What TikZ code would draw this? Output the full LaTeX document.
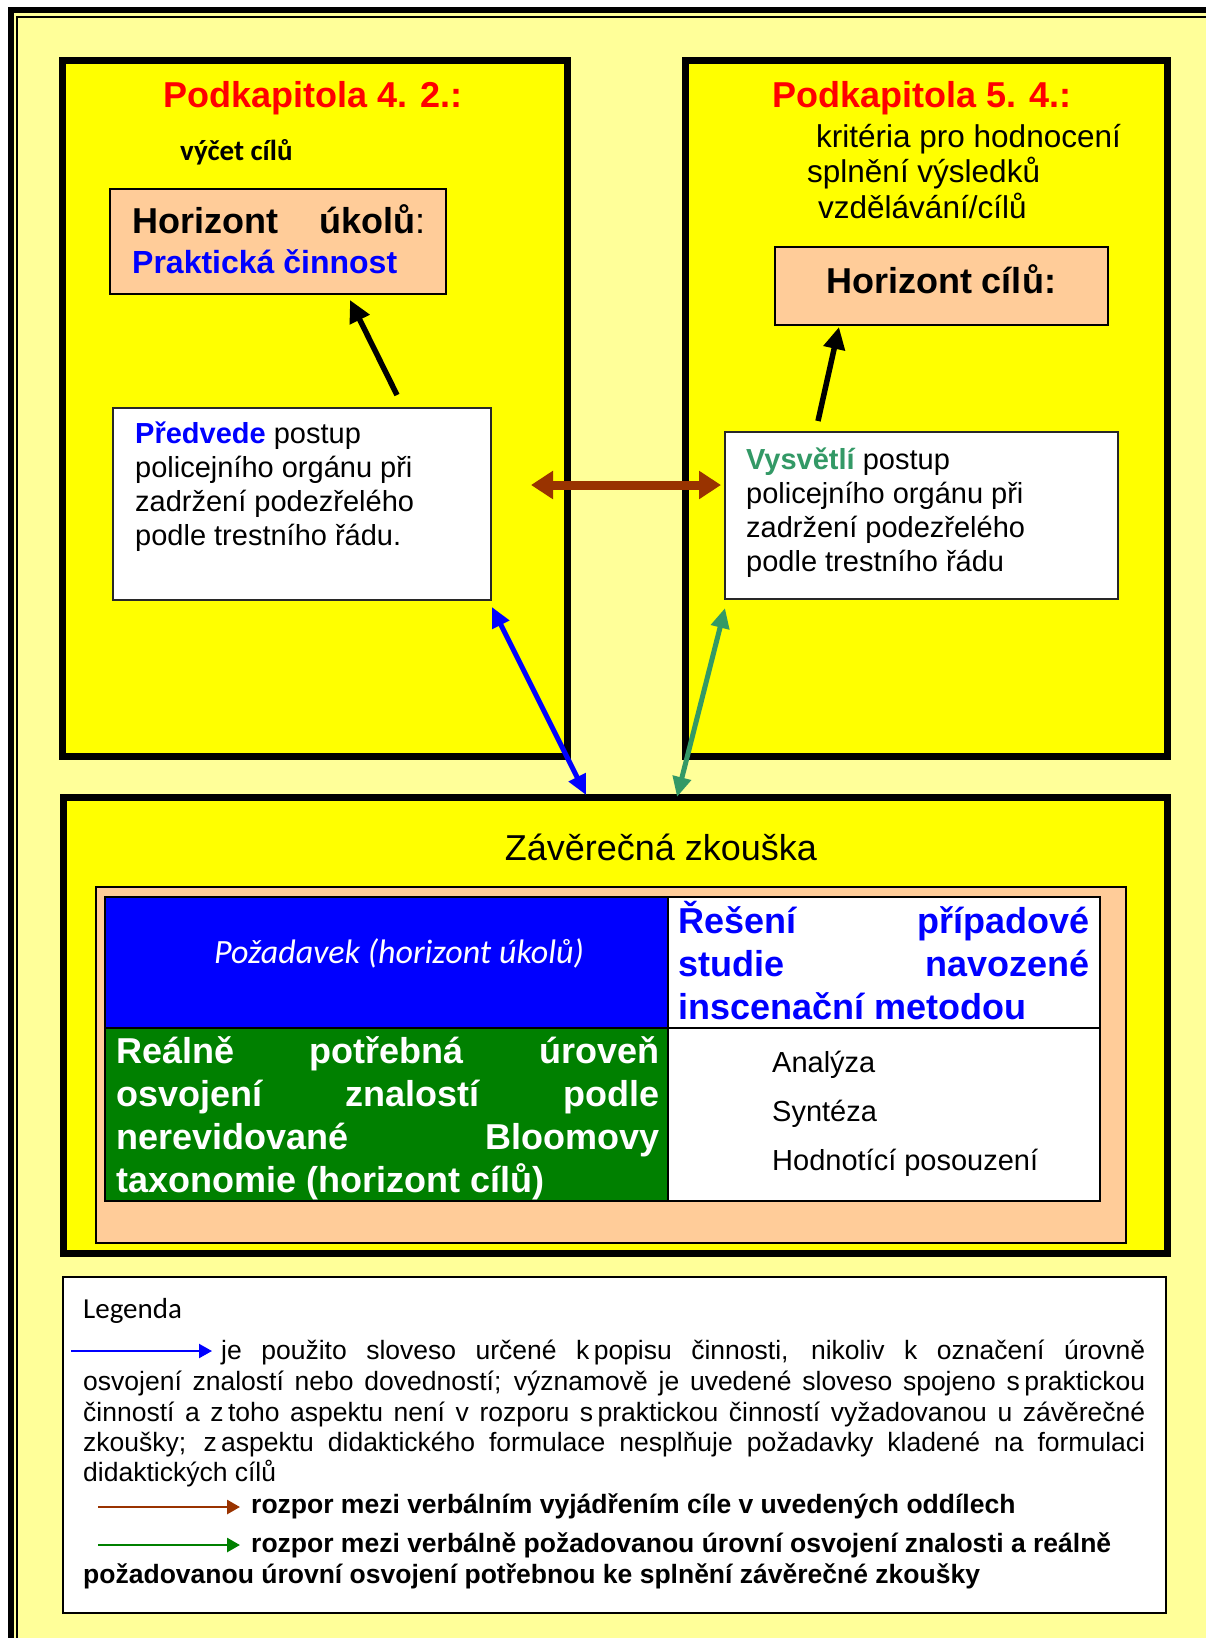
\documentclass[tikz,border=0pt]{standalone}
\usepackage{fontspec}
\setmainfont{Liberation Sans}
\newfontfamily\calibrifont{Carlito}
\usepackage{xcolor}
\usetikzlibrary{arrows.meta}

\begin{document}
\begin{tikzpicture}[x=1pt,y=-1pt,
    chapbox/.style={draw, line width=7pt, fill={rgb, 255:red, 255; green, 255; blue, 0 }, anchor=north west, inner sep=0pt, outer sep=0pt},
    peachbox/.style={draw, line width=2pt, fill={rgb, 255:red, 255; green, 204; blue, 153 }, anchor=north west, inner sep=0pt, outer sep=0pt},
    whitebox/.style={draw={rgb, 255:red, 40; green, 40; blue, 40 }, line width=2pt, fill=white, anchor=north west, inner sep=0pt, outer sep=0pt},
    cell/.style={draw, line width=2.5pt, anchor=north west, inner sep=0pt, outer sep=0pt},
    txt/.style={anchor=base west, inner sep=0pt, align=left},
    blackarrow/.style={line width=5.5pt, -{Triangle[length=22pt,width=21pt]}},
    brownarrow/.style={color={rgb, 255:red, 153; green, 51; blue, 0 }, line width=9pt, {Triangle[length=22pt,width=27pt]}-{Triangle[length=22pt,width=27pt]}},
    bluearrow/.style={color={rgb, 255:red, 0; green, 0; blue, 255 }, line width=5pt, {Triangle[length=20pt,width=18pt]}-{Triangle[length=20pt,width=18pt]}},
    seaarrow/.style={color={rgb, 255:red, 51; green, 153; blue, 102 }, line width=5pt, {Triangle[length=20pt,width=18pt]}-{Triangle[length=20pt,width=18pt]}},
    legarrow/.style={line width=2.8pt, -{Triangle[length=13pt,width=14pt]}}
  ]
  \useasboundingbox (0,0) rectangle (1206,1638);
  %Background frame
  \fill [fill={rgb, 255:red, 255; green, 255; blue, 153 }] (8,7) rectangle (1206,1638);
  \draw [line width=6pt] (11,1638) -- (11,10) -- (1206,10);
  \draw [line width=1.8pt] (17,1638) -- (17,17) -- (1206,17);

  %Shape: Rectangle [Podkapitola 4.2]
  \node [chapbox, minimum width=505pt, minimum height=696pt] (kap42) at (62,60) {};
  %Shape: Rectangle [Podkapitola 5.4]
  \node [chapbox, minimum width=482pt, minimum height=696pt] (kap54) at (685,60) {};
  %Shape: Rectangle [Zaverecna zkouska]
  \node [chapbox, minimum width=1104pt, minimum height=456pt] (exam) at (63,797) {};

  %Shape: Rectangle
  \node [peachbox, minimum width=336pt, minimum height=105pt] (ukoly) at (110,189) {};
  \node [peachbox, minimum width=333pt, minimum height=78pt] (cile) at (775,247) {};
  \node [whitebox, minimum width=378pt, minimum height=192pt] (predvede) at (113,408) {};
  \node [whitebox, minimum width=393pt, minimum height=167pt] (vysvetli) at (725,432) {};
  \node [peachbox, minimum width=1030pt, minimum height=356pt] (zkouska) at (96,887) {};

  %Table
  \node [cell, fill={rgb, 255:red, 0; green, 0; blue, 255 }, minimum width=563pt, minimum height=131pt] (pozadavek) at (105,897) {};
  \node [cell, fill=white, minimum width=432pt, minimum height=131pt] (reseni) at (668,897) {};
  \node [cell, fill={rgb, 255:red, 0; green, 128; blue, 0 }, minimum width=563pt, minimum height=173pt] (uroven) at (105,1028) {};
  \node [cell, fill=white, minimum width=432pt, minimum height=173pt] (metody) at (668,1028) {};

  %Shape: Rectangle [Legenda]
  \node [whitebox, draw=black, minimum width=1103pt, minimum height=336pt] (legenda) at (63,1277) {};

  % Text Node
  \node [txt, anchor=base, color={rgb, 255:red, 255; green, 0; blue, 0 }, font=\bfseries\fontsize{36pt}{40pt}\selectfont] (titulA) at (313,107) {Podkapitola 4. 2.:};
  % Text Node
  \node [txt, font=\calibrifont\bfseries\fontsize{29pt}{34pt}\selectfont] (vycet) at (180,160) {výčet cílů};
  % Text Node
  \node [txt, font=\fontsize{36pt}{40pt}\selectfont] (horukoly) at (132,233) {\makebox[293pt][s]{\bfseries Horizont úkolů\mdseries:}};
  % Text Node
  \node [txt, color={rgb, 255:red, 0; green, 0; blue, 255 }, font=\bfseries\fontsize{32pt}{36pt}\selectfont] (praxe) at (132,273) {Praktická činnost};
  % Text Node (anchored at the last line)
  \node [txt, font=\fontsize{29pt}{34pt}\selectfont] (predvedeTxt) at (135,545) {\textcolor{blue}{\bfseries Předvede} postup\\policejního orgánu při\\zadržení podezřelého\\podle trestního řádu.};

  % Text Node
  \node [txt, anchor=base, color={rgb, 255:red, 255; green, 0; blue, 0 }, font=\bfseries\fontsize{36pt}{40pt}\selectfont] (titulB) at (922,107) {Podkapitola 5. 4.:};
  % Text Node
  \node [txt, font=\fontsize{31.5pt}{35pt}\selectfont] (kriteria) at (816,147) {kritéria pro hodnocení};
  \node [txt, font=\fontsize{31.5pt}{35pt}\selectfont] (splneni) at (807,182) {splnění výsledků};
  \node [txt, font=\fontsize{31.5pt}{35pt}\selectfont] (vzdel) at (818,218) {vzdělávání/cílů};
  % Text Node
  \node [txt, anchor=base, font=\bfseries\fontsize{36pt}{40pt}\selectfont] (horcile) at (941,293) {Horizont cílů:};
  % Text Node (anchored at the last line)
  \node [txt, font=\fontsize{29pt}{34pt}\selectfont] (vysvetliTxt) at (746,571) {\textcolor[RGB]{51,153,102}{\bfseries Vysvětlí} postup\\policejního orgánu při\\zadržení podezřelého\\podle trestního řádu};

  % Text Node
  \node [txt, anchor=base, font=\fontsize{36pt}{40pt}\selectfont] (examTxt) at (661,860) {Závěrečná zkouška};
  % Text Node
  \node [txt, anchor=base, color=white, font=\calibrifont\itshape\fontsize{34pt}{38pt}\selectfont] (pozTxt) at (399,963) {Požadavek (horizont úkolů)};
  % Text Node
  \node [txt, color={rgb, 255:red, 0; green, 0; blue, 255 }, font=\bfseries\fontsize{36pt}{43pt}\selectfont] (reseniTxt) at (678,1019) {\makebox[411pt][s]{Řešení případové}\\\makebox[411pt][s]{studie navozené}\\inscenační metodou};
  % Text Node
  \node [txt, color=white, font=\bfseries\fontsize{36pt}{43pt}\selectfont] (urovenTxt) at (116,1192) {\makebox[543pt][s]{Reálně potřebná úroveň}\\\makebox[543pt][s]{osvojení znalostí podle}\\\makebox[543pt][s]{nerevidované Bloomovy}\\taxonomie (horizont cílů)};
  % Text Node
  \node [txt, font=\fontsize{29pt}{49pt}\selectfont] (metodyTxt) at (772,1170) {Analýza\\Syntéza\\Hodnotící posouzení};

  % Text Node
  \node [txt, font=\calibrifont\fontsize{29pt}{34pt}\selectfont] (legTitul) at (83,1318) {Legenda};
  \node [txt, font=\fontsize{26.5pt}{30pt}\selectfont] (legA1) at (221,1359) {\makebox[924pt][s]{je použito sloveso určené k\,popisu činnosti, nikoliv k označení úrovně}};
  \node [txt, font=\fontsize{26.5pt}{30pt}\selectfont] (legA2) at (83,1390) {\makebox[1062pt][s]{osvojení znalostí nebo dovedností; významově je uvedené sloveso spojeno s\,praktickou}};
  \node [txt, font=\fontsize{26.5pt}{30pt}\selectfont] (legA3) at (83,1421) {\makebox[1062pt][s]{činností a z\,toho aspektu není v rozporu s\,praktickou činností vyžadovanou u závěrečné}};
  \node [txt, font=\fontsize{26.5pt}{30pt}\selectfont] (legA4) at (83,1451) {\makebox[1062pt][s]{zkoušky; z\,aspektu didaktického formulace nesplňuje požadavky kladené na formulaci}};
  \node [txt, font=\fontsize{26.5pt}{30pt}\selectfont] (legA5) at (83,1481) {didaktických cílů};
  \node [txt, font=\bfseries\fontsize{26.5pt}{30pt}\selectfont] (legB) at (251,1513) {rozpor mezi verbálním vyjádřením cíle v uvedených oddílech};
  \node [txt, font=\bfseries\fontsize{26.5pt}{30pt}\selectfont] (legC1) at (251,1552) {rozpor mezi verbálně požadovanou úrovní osvojení znalosti a reálně};
  \node [txt, font=\bfseries\fontsize{26.5pt}{30pt}\selectfont] (legC2) at (83,1583) {požadovanou úrovní osvojení potřebnou ke splnění závěrečné zkoušky};

  %Straight Lines [arrows]
  \draw [blackarrow] ([shift={(95,-13)}]predvede.north) -- ([shift={(72,6)}]ukoly.south);
  \draw [blackarrow] ([shift={(-103.5,-11)}]vysvetli.north) -- ([shift={(-102.5,2)}]cile.south);
  \draw [brownarrow] ([shift={(40,-19)}]predvede.east) -- ([shift={(-4,-30.5)}]vysvetli.west);
  \draw [bluearrow] ([shift={(1,7)}]predvede.south east) -- ([shift={(-29,-2)}]exam.north);
  \draw [seaarrow] ([shift={(0,9)}]vysvetli.south west) -- ([shift={(62,0)}]exam.north);

  %Legend arrows
  \coordinate (lgA) at (71,1351);
  \coordinate (lgB) at (98,1507);
  \coordinate (lgC) at (98,1545);
  \draw [legarrow, line width=2.2pt, color={rgb, 255:red, 0; green, 0; blue, 255 }] (lgA) -- ([xshift=-9pt]legA1.west |- lgA);
  \draw [legarrow, color={rgb, 255:red, 153; green, 51; blue, 0 }] (lgB) -- ([xshift=-11pt]legB.west |- lgB);
  \draw [legarrow, color={rgb, 255:red, 0; green, 128; blue, 0 }] (lgC) -- ([xshift=-11pt]legC1.west |- lgC);
\end{tikzpicture}
\end{document}
